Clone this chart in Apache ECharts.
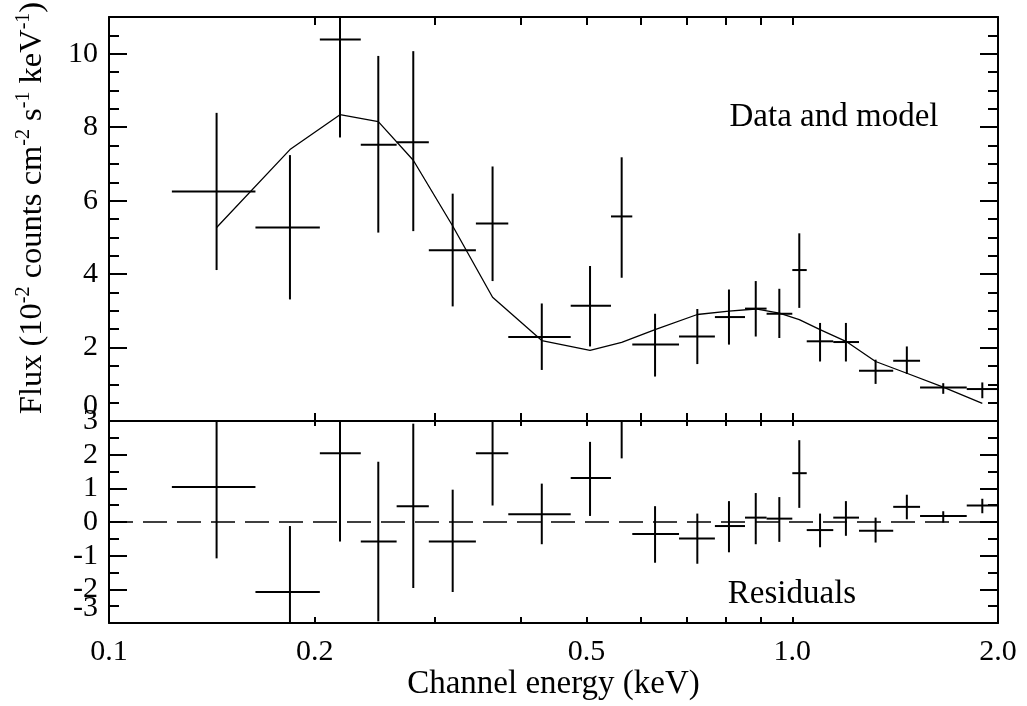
<!DOCTYPE html>
<html>
<head>
<meta charset="utf-8">
<title>Data and model / Residuals</title>
<script src="https://cdn.jsdelivr.net/npm/echarts@6/dist/echarts.min.js"></script>
<style>
  html, body { margin: 0; padding: 0; background: #fff; }
  #chart { width: 1027px; height: 706px; }
</style>
</head>
<body>
<div id="chart"></div>
<script>
// channel energies (keV): bin centre and bin edges
const energy = [0.1437, 0.184, 0.2178, 0.2478, 0.2788, 0.3184, 0.3642, 0.4299, 0.5058, 0.5627, 0.6297,
  0.7261, 0.8078, 0.8841, 0.9572, 1.0238, 1.098, 1.198, 1.324, 1.471, 1.663, 1.897];
const binEdges = [0.1236, 0.1638, 0.2035, 0.2336, 0.2636, 0.2938, 0.3443, 0.384, 0.4739, 0.5428, 0.5832,
  0.6827, 0.7704, 0.8527, 0.917, 1.0, 1.0498, 1.148, 1.252, 1.405, 1.538, 1.8, 2.0];

// flux, 10^-2 counts cm^-2 s^-1 keV^-1
const flux = [6.25, 5.27, 10.39, 7.52, 7.59, 4.65, 5.38, 2.29, 3.14, 5.57, 2.08,
  2.3, 2.83, 3.06, 2.92, 4.11, 2.17, 2.15, 1.37, 1.64, 0.91, 0.87];
const fluxLow = [4.11, 3.31, 7.72, 5.13, 5.17, 3.12, 3.81, 1.39, 2.03, 3.9, 1.21,
  1.55, 2.08, 2.3, 2.26, 3.08, 1.62, 1.62, 1.01, 1.28, 0.74, 0.62];
const fluxHigh = [8.39, 7.24, 13.06, 9.94, 10.07, 6.19, 6.93, 3.2, 4.22, 7.18, 2.92,
  3.05, 3.58, 3.81, 3.6, 5.11, 2.67, 2.67, 1.67, 2.03, 1.03, 1.05];
const model = [5.27, 7.39, 8.34, 8.15, 7.1, 5.31, 3.37, 2.19, 1.92, 2.14, 2.49,
  2.9, 2.99, 3.05, 2.94, 2.76, 2.49, 2.17, 1.62, 1.3, 0.92, 0.48];

// residuals
const resid = [1.04, -2.08, 2.04, -0.58, 0.47, -0.58, 2.04, 0.23, 1.31, 3.5, -0.36,
  -0.49, -0.12, 0.13, 0.1, 1.45, -0.24, 0.13, -0.26, 0.45, 0.18, 0.49];
const residLow = [-1.08, -4.04, -0.58, -2.95, -1.96, -2.08, 0.49, -0.66, 0.18, 1.89, -1.21,
  -1.24, -0.9, -0.66, -0.59, 0.42, -0.75, -0.41, -0.61, 0.08, -0.02, 0.26];
const residHigh = [3.16, -0.12, 4.66, 1.79, 2.92, 0.96, 3.59, 1.14, 2.38, 5.1, 0.47,
  0.25, 0.62, 0.86, 0.74, 2.43, 0.25, 0.62, 0.13, 0.81, 0.32, 0.69];

// axis ticks / labels
const xTickLabels = [0.1, 0.2, 0.5, 1.0, 2.0];
const xTicks = [0.2, 0.3, 0.4, 0.5, 0.6, 0.7, 0.8, 0.9, 1.0];
const fluxTicks = [0, 2, 4, 6, 8, 10];
const residTicks = [-3, -2, -1, 0, 1, 2, 3];

const FONT = "'Liberation Serif', 'Times New Roman', serif";
const X_MIN = Math.log10(0.1);
const X_MAX = Math.log10(2.0);

// minor ticks every 0.5
function halfSteps(min, max, majors) {
  let res = [];
  for (let v = min; v <= max + 1e-9; v += 0.5) {
    if (majors.indexOf(v) < 0) res.push(v);
  }
  return res;
}

// log energy axis (drawn as value axis on log10 E)
function xAxisOf(grid, position, tickLen, withLabels) {
  return {
    type: "value",
    gridIndex: grid,
    position: position,
    min: X_MIN,
    max: X_MAX,
    axisLine: { show: true, onZero: false, lineStyle: { color: "#000", width: 2 } },
    axisTick: {
      show: true,
      inside: true,
      length: tickLen,
      customValues: xTicks.map((v) => Math.log10(v)),
      lineStyle: { color: "#000", width: 2 },
    },
    axisLabel: {
      show: withLabels,
      customValues: xTickLabels.map((v) => Math.log10(v)),
      formatter: (v) => Math.pow(10, v).toFixed(1),
      color: "#000",
      fontFamily: FONT,
      fontSize: 30,
      margin: 14,
    },
    splitLine: { show: false },
    name: withLabels ? "Channel energy (keV)" : "",
    nameLocation: "middle",
    nameGap: 44,
    nameTextStyle: { color: "#000", fontFamily: FONT, fontSize: 33 },
  };
}

let labelStyle = {
  color: "#000",
  fontFamily: FONT,
  fontSize: 30,
  margin: 11,
};

// y axis: one for major ticks (+labels), one for minor ticks (+ the min label, sitting above the edge)
function yAxesOf(grid, position, min, max, majors, withLabels) {
  return [
    {
      type: "value",
      gridIndex: grid,
      position: position,
      min: min,
      max: max,
      axisLine: { show: true, onZero: false, lineStyle: { color: "#000", width: 2 } },
      axisTick: {
        show: true,
        inside: true,
        length: 18,
        customValues: majors,
        lineStyle: { color: "#000", width: 2 },
      },
      axisLabel: Object.assign({
        show: withLabels,
        customValues: majors.filter((v) => v !== min),
        showMinLabel: true,
        showMaxLabel: true,
      }, labelStyle),
      splitLine: { show: false },
    },
    {
      type: "value",
      gridIndex: grid,
      position: position,
      min: min,
      max: max,
      axisLine: { show: false, onZero: false },
      axisTick: {
        show: true,
        inside: true,
        length: 10,
        customValues: halfSteps(min, max, majors),
        lineStyle: { color: "#000", width: 2 },
      },
      axisLabel: Object.assign({
        show: withLabels,
        customValues: [min],
        verticalAlign: "bottom",
      }, labelStyle),
      splitLine: { show: false },
    },
  ];
}

// data point with x bin width and y error bar
function renderCross(params, api) {
  let x = api.value(0);
  let y = api.value(1);
  let left = api.coord([api.value(2), y]);
  let right = api.coord([api.value(3), y]);
  let bottom = api.coord([x, api.value(4)]);
  let top = api.coord([x, api.value(5)]);
  let style = { stroke: "#000", lineWidth: 2, fill: null };
  return {
    type: "group",
    children: [
      { type: "line", shape: { x1: left[0], y1: left[1], x2: right[0], y2: right[1] }, style: style },
      { type: "line", shape: { x1: bottom[0], y1: bottom[1], x2: top[0], y2: top[1] }, style: style },
    ],
  };
}

const fluxData = energy.map((e, i) => [
  Math.log10(e), flux[i], Math.log10(binEdges[i]), Math.log10(binEdges[i + 1]), fluxLow[i], fluxHigh[i],
]);
const residData = energy.map((e, i) => [
  Math.log10(e), resid[i], Math.log10(binEdges[i]), Math.log10(binEdges[i + 1]), residLow[i], residHigh[i],
]);
const modelData = energy.map((e, i) => [Math.log10(e), model[i]]);

let myChart = echarts.init(document.getElementById("chart"));
myChart.setOption({
  animation: false,
  backgroundColor: "#fff",
  textStyle: { fontFamily: FONT },
  grid: [
    { left: 109, right: 29, top: 17, height: 404, outerBoundsMode: "none" },
    { left: 109, right: 29, top: 421, height: 202, outerBoundsMode: "none" },
  ],
  xAxis: [
    xAxisOf(0, "bottom", 8, false),
    xAxisOf(0, "top", 8, false),
    xAxisOf(1, "top", 5, false),
    xAxisOf(1, "bottom", 6, true),
  ],
  yAxis: [
    ...yAxesOf(0, "left", 0, 11, fluxTicks, true),
    ...yAxesOf(0, "right", 0, 11, fluxTicks, false),
    ...yAxesOf(1, "left", -3, 3, residTicks, true),
    ...yAxesOf(1, "right", -3, 3, residTicks, false),
  ],
  graphic: [
    {
      type: "text",
      x: 32,
      y: 208,
      rotation: Math.PI / 2,
      style: {
        text: "Flux (10{sup|-2} counts cm{sup|-2} s{sup|-1} keV{sup|-1})",
        fontFamily: FONT,
        fontSize: 32.5,
        lineHeight: 37,
        fill: "#000",
        align: "center",
        verticalAlign: "middle",
        rich: {
          sup: { fontFamily: FONT, fontSize: 20, verticalAlign: "top", lineHeight: 20 },
        },
      },
    },
    {
      type: "text",
      x: 834,
      y: 117,
      style: {
        text: "Data and model",
        fontFamily: FONT,
        fontSize: 33,
        fill: "#000",
        align: "center",
        verticalAlign: "middle",
      },
    },
    {
      type: "text",
      x: 792,
      y: 594,
      style: {
        text: "Residuals",
        fontFamily: FONT,
        fontSize: 33,
        fill: "#000",
        align: "center",
        verticalAlign: "middle",
      },
    },
  ],
  series: [
    {
      name: "data",
      type: "custom",
      xAxisIndex: 0,
      yAxisIndex: 0,
      clip: true,
      renderItem: renderCross,
      encode: { x: 0, y: 1 },
      data: fluxData,
    },
    {
      name: "model",
      type: "line",
      xAxisIndex: 0,
      yAxisIndex: 0,
      showSymbol: false,
      clip: true,
      lineStyle: { color: "#000", width: 1.3 },
      data: modelData,
    },
    {
      name: "zero",
      type: "line",
      xAxisIndex: 3,
      yAxisIndex: 4,
      showSymbol: false,
      lineStyle: { color: "#000", width: 1.5, type: [24, 10] },
      data: [[X_MIN, 0], [X_MAX, 0]],
    },
    {
      name: "residuals",
      type: "custom",
      xAxisIndex: 3,
      yAxisIndex: 4,
      clip: true,
      renderItem: renderCross,
      encode: { x: 0, y: 1 },
      data: residData,
    },
  ],
});

window.addEventListener("resize", () => myChart.resize());
</script>
</body>
</html>
